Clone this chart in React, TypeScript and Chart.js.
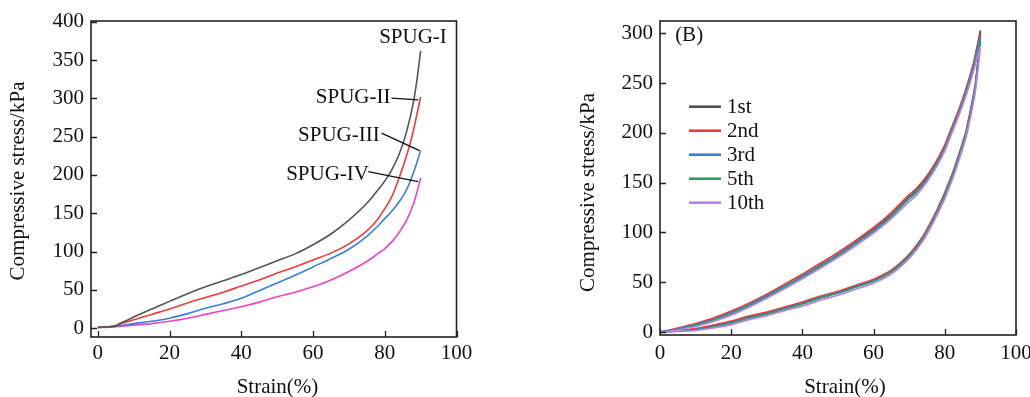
import React, { useEffect, useRef } from 'react';
import { Chart, registerables } from 'chart.js';

Chart.register(...registerables);

// ---------------- Panel A: compressive curves ----------------
const SPUG_I_STRAIN = [0, 2, 4, 5, 6, 8, 10, 15, 20, 25, 30, 35, 40, 45, 50, 55, 60, 65, 70, 75, 78, 80, 82, 84, 86, 88, 89, 90];
const SPUG_I_STRESS = [1, 1.5, 2, 3, 6, 10, 14.5, 25, 35, 45, 54, 62, 70, 79, 88, 97, 109, 123, 141, 163, 180, 192, 207, 227, 255, 295, 325, 362];

const SPUG_II_STRAIN = [0, 2, 4, 6, 8, 10, 15, 20, 25, 30, 35, 40, 45, 50, 55, 60, 65, 70, 75, 78, 80, 82, 84, 86, 88, 89, 90];
const SPUG_II_STRESS = [1, 1.5, 2.5, 5, 8, 11, 18, 25, 33, 40, 47, 55, 63, 72, 80, 89, 98, 110, 127, 142, 156, 172, 196, 224, 258, 280, 302];

const SPUG_III_STRAIN = [0, 2, 5, 10, 15, 20, 25, 30, 35, 40, 45, 50, 55, 60, 65, 70, 75, 78, 80, 82, 84, 86, 88, 89, 90];
const SPUG_III_STRESS = [1, 1.5, 2.5, 6, 9, 13, 19, 26, 32, 39, 49, 59, 69, 80, 91, 103, 120, 133, 143, 153, 165, 180, 203, 217, 232];

const SPUG_IV_STRAIN = [0, 2, 5, 10, 15, 20, 25, 30, 35, 40, 45, 50, 55, 60, 65, 70, 75, 78, 80, 82, 84, 86, 88, 89, 90];
const SPUG_IV_STRESS = [1, 1, 2, 4, 6, 9, 13, 18, 23, 28, 34, 41, 47, 54, 63, 74, 87, 97, 104, 113, 125, 140, 162, 178, 196];

const SPUG_LABELS = ['SPUG-I', 'SPUG-II', 'SPUG-III', 'SPUG-IV'];

// ---------------- Panel B: cyclic loading / unloading ----------------
const LOADING_STRAIN = [0, 2, 5, 10, 15, 20, 25, 30, 35, 40, 45, 50, 55, 60, 65, 70, 72, 75, 78, 80, 82, 84, 86, 88, 89, 90];
const UNLOADING_STRAIN = [90, 89.5, 89, 88.5, 88, 87, 86, 85, 84, 83, 82, 81, 80, 78, 76, 74, 72, 70, 68, 66, 64, 60, 55, 50, 45, 40, 35, 30, 25, 20, 15, 10, 5, 2, 0];

const CYCLE_1ST_LOADING = [0, 1, 3, 7, 12, 19, 27, 36, 46, 56, 67, 78, 90, 103, 118, 136, 142, 155, 172, 186, 204, 222, 243, 268, 285, 303];
const CYCLE_1ST_UNLOADING = [303, 278, 261, 246, 236, 218, 201, 189, 178, 167, 157, 148, 139, 123, 109, 96, 86, 77, 70, 64, 59, 52, 46, 40, 35, 29, 24, 19, 15, 10, 6, 3, 1, 0.5, 0];

const CYCLE_2ND_LOADING = [0, 1.5, 4, 8.5, 14, 21, 29, 38, 48, 58, 69, 80, 92, 105, 120, 138, 144, 157, 174, 188, 206, 224, 245, 269, 285, 299];
const CYCLE_2ND_UNLOADING = [299, 279, 262, 247, 237, 219, 202, 190, 179, 168, 158, 149, 140, 124, 110, 97, 87, 78, 71, 65, 60, 53, 47, 41, 36, 30, 25, 20, 16, 11, 7, 3.5, 1.5, 0.5, 0];

const CYCLE_3RD_LOADING = [0, 1, 3, 7.5, 12.5, 19.5, 27.5, 36.5, 46, 56, 66.5, 77.5, 89.5, 102, 117, 135, 141, 154, 171, 185, 203, 221, 242, 266, 282, 296];
const CYCLE_3RD_UNLOADING = [296, 277, 260, 245, 235, 217, 200, 188, 177, 166, 156, 147, 138, 122, 108, 95, 85, 76.5, 69.5, 63.5, 58.5, 51.5, 45.5, 39.5, 34.5, 28.5, 23.5, 18.5, 14.5, 9.5, 5.5, 2.5, 1, 0.5, 0];

const CYCLE_5TH_LOADING = [0, 0.5, 2.5, 6.5, 12, 18.5, 26.5, 35.5, 45, 55, 65.5, 76.5, 88.5, 101, 116, 134, 140, 153, 170, 184, 202, 220, 241, 264, 279, 292];
const CYCLE_5TH_UNLOADING = [292, 275, 258, 243, 233, 215, 199, 187, 176, 165, 155, 146, 137, 121, 107, 94.5, 84.5, 76, 69, 63, 58, 51, 45, 39, 34, 28, 23, 18, 14, 9, 5, 2, 1, 0.5, 0];

const CYCLE_10TH_LOADING = [0, 0, 2, 5.5, 10.5, 17, 25, 34, 43.5, 53.5, 64, 75, 87, 99.5, 114, 131, 137.5, 151, 168, 182, 200, 218, 238, 261, 275, 287];
const CYCLE_10TH_UNLOADING = [287, 270, 254, 240, 230, 212, 196, 184, 173, 162, 152, 143, 134, 119, 105, 92.5, 82.5, 74, 67, 61, 56, 49, 43, 37, 32, 26, 21.5, 16.5, 12.5, 7.5, 4, 1.5, 0.5, 0, 0];

const CYCLE_LABELS = ['1st', '2nd', '3rd', '5th', '10th'];

// ---------------- Axis text ----------------
const X_TITLE = 'Strain(%)';
const Y_TITLE = 'Compressive stress/kPa';
const PANEL_B_TAG = '(B)';

// ---------------- Styles ----------------
const FONT_FAMILY = "'Liberation Serif', 'Times New Roman', Times, serif";
const FONT_SIZE = 21;
const TEXT_COLOR = '#111111';
const FRAME_COLOR = '#222222';

const SPUG_COLORS = ['#555555', '#ee3b3b', '#3a7edc', '#ee44c8'];
const CYCLE_COLORS = ['#4f4f4f', '#ec3a3a', '#3a7edc', '#2e9e5e', '#b581ea'];

const zip = (xs: number[], ys: number[]) => xs.map((x, i) => ({ x, y: ys[i] }));

// frame + inward tick marks
const frameTicksPlugin = {
  id: 'frameTicks',
  afterDraw(chart: any, _args: any, opts: any) {
    const { ctx, chartArea: a, scales } = chart;
    ctx.save();
    ctx.strokeStyle = FRAME_COLOR;
    ctx.lineWidth = 1.3;
    ctx.beginPath();
    scales.x.ticks.forEach((t: any) => {
      const p = Math.round(scales.x.getPixelForValue(t.value)) + 0.5;
      ctx.moveTo(p, a.bottom);
      ctx.lineTo(p, a.bottom - opts.tickLength);
    });
    scales.y.ticks.forEach((t: any) => {
      const p = Math.round(scales.y.getPixelForValue(t.value)) + 0.5;
      ctx.moveTo(a.left, p);
      ctx.lineTo(a.left + opts.tickLength, p);
    });
    ctx.stroke();
    ctx.lineWidth = 1.6;
    ctx.strokeRect(a.left, a.top, a.right - a.left, a.bottom - a.top);
    ctx.restore();
  },
};

// axis titles at canvas positions
const titlesPlugin = {
  id: 'axisTitles',
  afterDraw(chart: any, _args: any, opts: any) {
    const { ctx } = chart;
    ctx.save();
    ctx.fillStyle = TEXT_COLOR;
    ctx.font = `${FONT_SIZE}px ${FONT_FAMILY}`;
    ctx.textAlign = 'center';
    ctx.textBaseline = 'middle';
    (opts.items || []).forEach((it: any) => {
      ctx.save();
      ctx.translate(it.x, it.y);
      if (it.rotate) ctx.rotate(-Math.PI / 2);
      ctx.fillText(it.text, 0, 0);
      ctx.restore();
    });
    ctx.restore();
  },
};

// text labels + leader lines in data coordinates
const notesPlugin = {
  id: 'notes',
  afterDraw(chart: any, _args: any, opts: any) {
    const { ctx, scales } = chart;
    const X = (v: number) => scales.x.getPixelForValue(v);
    const Y = (v: number) => scales.y.getPixelForValue(v);
    ctx.save();
    ctx.fillStyle = TEXT_COLOR;
    ctx.strokeStyle = TEXT_COLOR;
    ctx.lineWidth = 1.3;
    ctx.font = `${FONT_SIZE}px ${FONT_FAMILY}`;
    ctx.textBaseline = 'middle';
    (opts.items || []).forEach((it: any) => {
      ctx.textAlign = it.align || 'right';
      ctx.fillText(it.text, X(it.x), Y(it.y));
      if (it.from && it.to) {
        ctx.beginPath();
        ctx.moveTo(X(it.from[0]), Y(it.from[1]));
        ctx.lineTo(X(it.to[0]), Y(it.to[1]));
        ctx.stroke();
      }
    });
    ctx.restore();
  },
};

// legend inside the plot (panel B)
const innerLegendPlugin = {
  id: 'innerLegend',
  afterDraw(chart: any, _args: any, opts: any) {
    if (!opts.show) return;
    const { ctx, chartArea: a } = chart;
    ctx.save();
    ctx.font = `${FONT_SIZE}px ${FONT_FAMILY}`;
    ctx.textBaseline = 'middle';
    ctx.textAlign = 'left';
    chart.data.datasets.forEach((ds: any, i: number) => {
      const y = a.top + opts.firstRow + i * opts.rowGap;
      ctx.strokeStyle = ds.borderColor;
      ctx.lineWidth = 2.6;
      ctx.beginPath();
      ctx.moveTo(a.left + opts.lineStart, y);
      ctx.lineTo(a.left + opts.lineEnd, y);
      ctx.stroke();
      ctx.fillStyle = TEXT_COLOR;
      ctx.fillText(ds.label, a.left + opts.textStart, y + 1);
    });
    ctx.restore();
  },
};

function baseOptions(p: {
  xMin: number; xMax: number; yMin: number; yMax: number;
  yAxisWidth: number; xAxisHeight: number; padRight: number; padTop: number;
  xTickPad: number;
}) {
  const tickFont = { family: FONT_FAMILY, size: FONT_SIZE };
  return {
    responsive: false,
    animation: false as const,
    events: [] as any[],
    layout: { padding: { left: 0, right: p.padRight, top: p.padTop, bottom: 0 } },
    plugins: {
      legend: { display: false },
      tooltip: { enabled: false },
      frameTicks: { tickLength: 6 },
    } as any,
    elements: { point: { radius: 0 } },
    scales: {
      x: {
        type: 'linear' as const,
        min: p.xMin,
        max: p.xMax,
        grid: { display: false, drawTicks: false },
        border: { display: false },
        ticks: { stepSize: 20, includeBounds: false, font: tickFont, color: TEXT_COLOR, padding: p.xTickPad, maxRotation: 0 },
        afterFit: (s: any) => { s.height = p.xAxisHeight; },
      },
      y: {
        type: 'linear' as const,
        min: p.yMin,
        max: p.yMax,
        grid: { display: false, drawTicks: false },
        border: { display: false },
        ticks: { stepSize: 50, includeBounds: false, font: tickFont, color: TEXT_COLOR, padding: 7 },
        afterFit: (s: any) => { s.width = p.yAxisWidth; },
      },
    },
  };
}

function buildPanelA() {
  const series = [
    zip(SPUG_I_STRAIN, SPUG_I_STRESS),
    zip(SPUG_II_STRAIN, SPUG_II_STRESS),
    zip(SPUG_III_STRAIN, SPUG_III_STRESS),
    zip(SPUG_IV_STRAIN, SPUG_IV_STRESS),
  ];
  const options: any = baseOptions({
    xMin: -1.9, xMax: 100, yMin: -11.5, yMax: 401,
    yAxisWidth: 91, xAxisHeight: 60, padRight: 83.5, padTop: 21, xTickPad: 4,
  });
  options.plugins.axisTitles = {
    items: [
      { text: X_TITLE, x: 277.5, y: 387.5 },
      { text: Y_TITLE, x: 18, y: 181, rotate: true },
    ],
  };
  options.plugins.notes = {
    items: [
      { text: SPUG_LABELS[0], x: 97.3, y: 379 },
      { text: SPUG_LABELS[1], x: 81.6, y: 301, from: [81.9, 300.3], to: [89.3, 298] },
      { text: SPUG_LABELS[2], x: 78.6, y: 252, from: [79.1, 254.6], to: [89.7, 231.9] },
      { text: SPUG_LABELS[3], x: 75.6, y: 201, from: [75.4, 204.4], to: [89.3, 191.4] },
    ],
  };
  options.plugins.innerLegend = { show: false };
  return {
    type: 'line' as const,
    data: {
      datasets: series.map((d, i) => ({
        label: SPUG_LABELS[i],
        data: d,
        borderColor: SPUG_COLORS[i],
        backgroundColor: SPUG_COLORS[i],
        borderWidth: 1.6,
        pointRadius: 0,
        fill: false,
        cubicInterpolationMode: 'monotone',
      })),
    },
    options,
    plugins: [frameTicksPlugin, titlesPlugin, notesPlugin, innerLegendPlugin],
  };
}

function buildPanelB() {
  const loops = [
    zip(LOADING_STRAIN, CYCLE_1ST_LOADING).concat(zip(UNLOADING_STRAIN, CYCLE_1ST_UNLOADING)),
    zip(LOADING_STRAIN, CYCLE_2ND_LOADING).concat(zip(UNLOADING_STRAIN, CYCLE_2ND_UNLOADING)),
    zip(LOADING_STRAIN, CYCLE_3RD_LOADING).concat(zip(UNLOADING_STRAIN, CYCLE_3RD_UNLOADING)),
    zip(LOADING_STRAIN, CYCLE_5TH_LOADING).concat(zip(UNLOADING_STRAIN, CYCLE_5TH_UNLOADING)),
    zip(LOADING_STRAIN, CYCLE_10TH_LOADING).concat(zip(UNLOADING_STRAIN, CYCLE_10TH_UNLOADING)),
  ];
  const options: any = baseOptions({
    xMin: 0, xMax: 100, yMin: -3, yMax: 312.5,
    yAxisWidth: 90, xAxisHeight: 62, padRight: 34, padTop: 21, xTickPad: 6,
  });
  options.plugins.axisTitles = {
    items: [
      { text: X_TITLE, x: 275, y: 387.5 },
      { text: Y_TITLE, x: 18, y: 192.5, rotate: true },
    ],
  };
  options.plugins.notes = {
    items: [{ text: PANEL_B_TAG, x: 4.25, y: 298.3, align: 'left' }],
  };
  options.plugins.innerLegend = { show: true, firstRow: 85.7, rowGap: 24, lineStart: 29, lineEnd: 61, textStart: 67 };
  return {
    type: 'line' as const,
    data: {
      datasets: loops.map((d, i) => ({
        label: CYCLE_LABELS[i],
        data: d,
        borderColor: CYCLE_COLORS[i],
        backgroundColor: CYCLE_COLORS[i],
        borderWidth: 1.7,
        pointRadius: 0,
        fill: false,
        tension: 0.2,
        order: CYCLE_LABELS.length - i,
      })),
    },
    options,
    plugins: [frameTicksPlugin, titlesPlugin, notesPlugin, innerLegendPlugin],
  };
}

function ChartCanvas(props: { build: () => any; left: number; width: number; height: number }) {
  const ref = useRef<HTMLCanvasElement | null>(null);
  useEffect(() => {
    if (!ref.current) return;
    const chart = new Chart(ref.current, props.build());
    return () => chart.destroy();
  }, []);
  return (
    <canvas
      ref={ref}
      width={props.width}
      height={props.height}
      style={{ position: 'absolute', left: props.left, top: 0, width: props.width, height: props.height }}
    />
  );
}

export default function App() {
  return (
    <div
      style={{
        position: 'absolute',
        left: 0,
        top: 0,
        width: 1030,
        height: 397,
        overflow: 'hidden',
        background: '#ffffff',
      }}
    >
      <ChartCanvas build={buildPanelA} left={0} width={540} height={397} />
      <ChartCanvas build={buildPanelB} left={570} width={480} height={397} />
    </div>
  );
}
